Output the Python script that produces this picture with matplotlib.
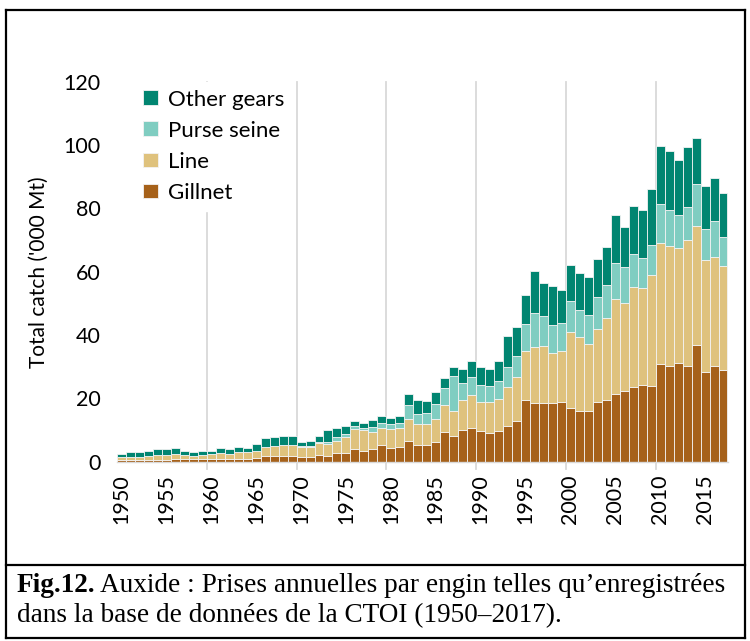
import matplotlib
matplotlib.use("Agg")
import matplotlib.pyplot as plt
from matplotlib.lines import Line2D
import numpy as np

years = list(range(1950, 2018))
gillnet = [0.6, 0.5, 0.5, 0.5, 0.6, 0.6, 0.7, 0.9, 0.7, 0.7,
           0.8, 0.8, 0.7, 0.9, 0.9, 1.0, 1.7, 1.7, 1.7, 1.7,
           1.5, 1.5, 2.2, 1.8, 2.7, 2.7, 3.9, 3.2, 4.1, 5.1,
           4.4, 4.5, 6.5, 5.2, 5.3, 6.1, 9.4, 8.0, 10.0, 10.6,
           9.6, 9.0, 9.8, 11.1, 12.8, 19.5, 18.6, 18.6, 18.6, 18.8,
           17.0, 16.1, 16.0, 18.9, 19.5, 21.3, 22.2, 23.4, 24.2, 23.9,
           30.9, 30.2, 31.0, 30.1, 36.9, 28.3, 30.2, 28.9]
line = [0.7, 0.9, 1.0, 1.1, 1.5, 1.6, 1.6, 1.2, 1.1, 1.4,
        1.6, 1.9, 1.8, 2.1, 2.1, 2.4, 3.0, 3.2, 3.4, 3.4,
        3.2, 3.0, 3.6, 3.6, 3.9, 5.0, 6.5, 6.7, 5.2, 5.5,
        6.0, 6.1, 6.8, 6.7, 6.6, 7.2, 8.5, 7.9, 9.4, 10.4,
        9.2, 9.8, 9.9, 12.5, 13.9, 15.4, 17.7, 17.9, 15.8, 16.2,
        24.0, 23.4, 21.0, 23.0, 25.8, 30.1, 28.0, 31.9, 30.8, 35.0,
        38.3, 37.8, 36.6, 40.0, 37.6, 35.5, 34.6, 33.0]
purse_seine = [0, 0, 0, 0, 0, 0, 0, 0, 0, 0,
               0, 0, 0, 0, 0, 0, 0, 0, 0, 0,
               0.2, 0.5, 0.3, 0.9, 1.1, 0.9, 0.9, 0.7, 1.7, 1.5,
               1.3, 1.5, 4.6, 3.2, 3.4, 5.0, 5.4, 11.0, 5.4, 5.8,
               5.4, 5.1, 5.8, 6.3, 6.8, 8.6, 10.8, 9.4, 8.7, 8.8,
               9.6, 8.5, 9.2, 10.0, 10.4, 11.3, 11.3, 10.4, 9.5, 9.6,
               12.1, 11.6, 10.3, 10.3, 13.2, 9.7, 11.3, 9.1]
other_gears = [1.2, 1.5, 1.5, 1.8, 1.8, 1.9, 1.9, 1.1, 1.2, 1.1,
               1.0, 1.5, 1.4, 1.5, 1.4, 2.2, 2.8, 2.8, 2.9, 2.9,
               1.4, 1.6, 1.9, 3.7, 2.9, 2.5, 1.4, 1.5, 2.2, 2.2,
               2.0, 2.2, 3.3, 4.2, 3.9, 3.7, 3.0, 3.1, 4.3, 5.1,
               5.6, 5.3, 6.2, 9.7, 9.0, 9.3, 13.0, 10.4, 12.4, 10.5,
               11.6, 11.7, 12.1, 12.1, 12.1, 15.2, 12.6, 15.2, 15.1, 17.8,
               18.4, 18.7, 17.5, 19.0, 14.5, 13.5, 13.5, 13.8]

series_names = ["Gillnet", "Line", "Purse seine", "Other gears"]
colors = ["#A6611A", "#DFC27D", "#80CDC1", "#018571"]
xtick_years = list(range(1950, 2016, 5))
ytick_vals = [0, 20, 40, 60, 80, 100, 120]

FONT = "Lato"
W, H = 750, 641
fig = plt.figure(figsize=(W / 100, H / 100), dpi=100)
ax = fig.add_axes([117 / W, 1 - 461.5 / H, (727.5 - 117) / W, (461.5 - 82) / H])

x = np.array(years)
bottom = np.zeros(len(years))
handles = []
for vals, name, col in zip([gillnet, line, purse_seine, other_gears], series_names, colors):
    v = np.array(vals, dtype=float)
    b = ax.bar(x, v, bottom=bottom, width=1.0, color=col, edgecolor="#f3f3f3",
               linewidth=0.6, label=name, zorder=2)
    handles.append(b)
    bottom += v

ax.set_xlim(1949.5, 2017.5)
ax.set_ylim(0, 120)

# vertical gridlines between categories every 10 years
for g in range(1960, 2011, 10):
    ax.axvline(g - 0.5, color="#d9d9d9", lw=1.3, zorder=1, ymin=-0.02, ymax=1, clip_on=False)

for s in ["top", "right", "left"]:
    ax.spines[s].set_visible(False)
ax.spines["bottom"].set_color("#d9d9d9")
ax.spines["bottom"].set_linewidth(1.0)

ax.set_yticks(ytick_vals)
ax.set_yticklabels([str(v) for v in ytick_vals], fontsize=15.5, family=FONT)
ax.tick_params(axis="y", length=0, pad=12)
ax.set_xticks(xtick_years)
ax.set_xticklabels([str(v) for v in xtick_years], rotation=90, fontsize=15.5, family=FONT)
ax.tick_params(axis="x", length=0, pad=9)

ax.set_ylabel("Total catch ('000 Mt)", fontsize=15, family=FONT, labelpad=10)

leg = ax.legend(handles[::-1], series_names[::-1], loc="upper left",
                bbox_to_anchor=(0.012, 1.03), frameon=True, fancybox=False,
                facecolor="white", edgecolor="white", framealpha=1,
                prop={"family": FONT, "size": 16}, handlelength=0.65,
                handleheight=0.65, handletextpad=0.45, labelspacing=0.5,
                borderpad=0.35)
leg.set_zorder(5)

# figure frame and caption separator
lw = 1.6
def px_line(x0, y0, x1, y1):
    fig.add_artist(Line2D([x0 / W, x1 / W], [1 - y0 / H, 1 - y1 / H], color="black", lw=lw))
px_line(6, 10, 745, 10)
px_line(6, 10, 6, 638)
px_line(745, 10, 745, 638)
px_line(6, 638, 745, 638)
px_line(6, 565, 745, 565)

# caption
cap_font = "Liberation Serif"
fs = 19.6
t1 = fig.text(17 / W, 1 - 592 / H, "Fig.12.", fontsize=fs, family=cap_font, weight="bold")
fig.canvas.draw()
bb = t1.get_window_extent(renderer=fig.canvas.get_renderer())
fig.text((bb.x1 + 4) / W, 1 - 592 / H,
         "Auxide : Prises annuelles par engin telles qu\u2019enregistr\u00e9es",
         fontsize=fs, family=cap_font)
fig.text(17 / W, 1 - 622 / H,
         "dans la base de donn\u00e9es de la CTOI (1950\u20132017).",
         fontsize=fs, family=cap_font)

fig.savefig("out.png", dpi=100)
